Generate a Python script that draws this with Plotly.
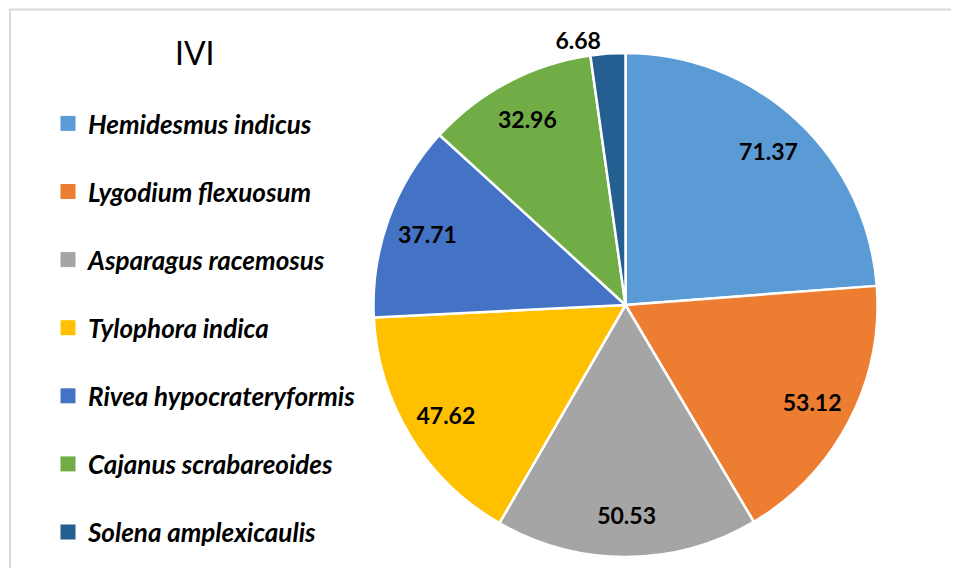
import plotly.graph_objects as go

species = ["Hemidesmus indicus", "Lygodium flexuosum", "Asparagus racemosus",
           "Tylophora indica", "Rivea hypocrateryformis", "Cajanus scrabareoides",
           "Solena amplexicaulis"]
ivi = [71.37, 53.12, 50.53, 47.62, 37.71, 32.96, 6.68]
colors = ["#5B9BD5", "#ED7D31", "#A5A5A5", "#FFC000", "#4472C4", "#70AD47", "#255E91"]
outside = [False] * 6 + [True]

W, H = 959, 568
cx, cy, r = 617.5, 297, 252
dom = dict(x=[(cx - r) / W, (cx + r) / W], y=[1 - (cy + r) / H, 1 - (cy - r) / H])
lab_font = dict(family="Lato", size=23, color="black")

fig = go.Figure()
# main pie: slices + the small outside label
fig.add_trace(go.Pie(
    labels=species, values=ivi, sort=False, direction="clockwise", rotation=0,
    marker=dict(colors=colors, line=dict(color="white", width=2.5)),
    texttemplate="<b>%{value}</b>",
    textposition=["outside" if o else "none" for o in outside],
    textfont=lab_font, domain=dom, showlegend=False, hoverinfo="label+value",
))
# transparent ring overlay to place inside labels further out (as in the original)
fig.add_trace(go.Pie(
    labels=species, values=ivi, sort=False, direction="clockwise", rotation=0, hole=0.67,
    marker=dict(colors=["rgba(0,0,0,0)"] * len(ivi), line=dict(width=0)),
    texttemplate="<b>%{value}</b>", insidetextorientation="horizontal",
    textposition=["none" if o else "inside" for o in outside],
    textfont=lab_font, domain=dom, showlegend=False, hoverinfo="skip",
))
for name, col in zip(species, colors):
    fig.add_trace(go.Scatter(
        x=[None], y=[None], mode="markers", name=name, legendgroup=name,
        marker=dict(symbol="square", size=15, color=col),
    ))

fig.update_layout(
    width=W, height=H, margin=dict(l=0, r=0, t=0, b=0),
    paper_bgcolor="white", plot_bgcolor="white",
    xaxis=dict(visible=False), yaxis=dict(visible=False),
    showlegend=True,
    legend=dict(x=40 / W, y=1 - 92 / H, xanchor="left", yanchor="top",
                font=dict(family="Lato", size=26, color="black", style="italic", weight="bold"),
                tracegroupgap=31.3, itemclick=False),
    annotations=[dict(text="IVI", x=187 / W, y=1 - 45 / H, xref="paper", yref="paper",
                      xanchor="center", yanchor="middle",
                      showarrow=False, font=dict(family="Lato", size=32, color="black"))],
    shapes=[dict(type="rect", xref="paper", yref="paper",
                 x0=2 / W, x1=1.02, y0=-0.02, y1=1 - 1.5 / H,
                 line=dict(color="#D9D9D9", width=2))],
)
fig.write_html("out.html")
